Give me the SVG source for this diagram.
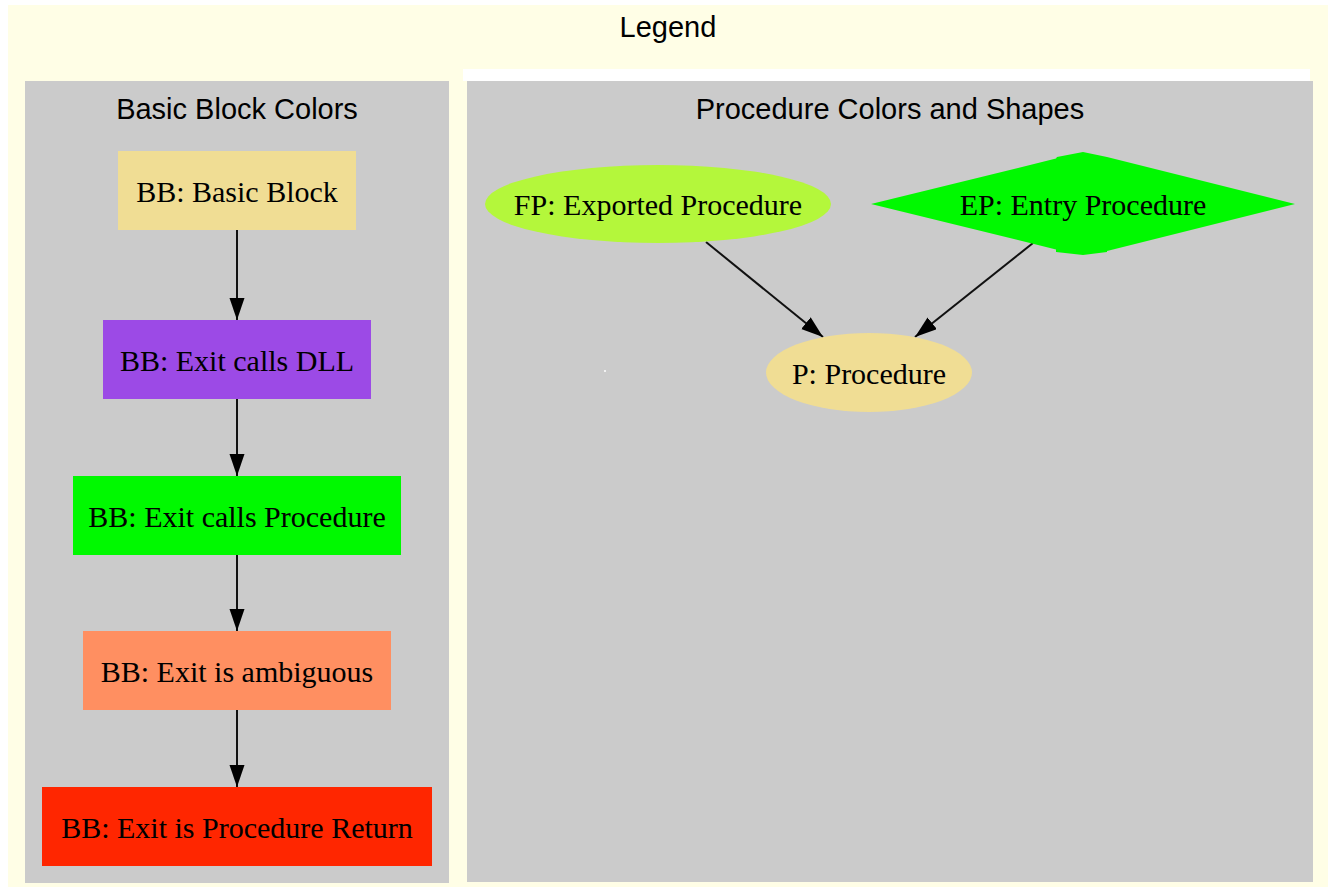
<svg xmlns="http://www.w3.org/2000/svg" width="1334" height="888" viewBox="0 0 1334 888">
  <style>
    .title { font-family: "Liberation Sans", Arial, sans-serif; font-size: 29px; fill: #000; text-anchor: middle; }
    .lbl { font-family: "Liberation Serif", "Times New Roman", serif; font-size: 30px; fill: #000; text-anchor: middle; }
    .cluster { fill: #cbcbcb; }
    .edge { fill: none; stroke: #111; stroke-width: 2; }
  </style>
  <defs>
    <marker id="arrow" markerUnits="userSpaceOnUse" markerWidth="23" markerHeight="16" refX="22" refY="7.5" orient="auto">
      <path d="M0,0 L22,7.5 L0,15 z" fill="#000"/>
    </marker>
  </defs>
  <rect width="1334" height="888" fill="#ffffff"/>
  <g id="legend">
    <rect x="8" y="5" width="1320" height="882" fill="#fffee6"/>
    <text class="title" x="668" y="37">Legend</text>
  </g>
  <g id="cluster-bb">
    <rect class="cluster" x="25" y="81" width="424" height="802"/>
    <text class="title" x="237" y="119">Basic Block Colors</text>
  </g>
  <g id="cluster-proc">
    <rect x="463" y="69" width="847" height="12" fill="#ffffff"/>
    <rect class="cluster" x="467" y="81" width="846" height="801"/>
    <text class="title" x="890" y="119">Procedure Colors and Shapes</text>
    <circle cx="605" cy="371" r="1" fill="#ffffff"/>
  </g>
  <g id="connectors">
    <path class="edge" d="M237,230 L237,320" marker-end="url(#arrow)"/>
    <path class="edge" d="M237,399 L237,476" marker-end="url(#arrow)"/>
    <path class="edge" d="M237,555 L237,631" marker-end="url(#arrow)"/>
    <path class="edge" d="M237,710 L237,787" marker-end="url(#arrow)"/>
    <path class="edge" d="M706,242 L823,337" marker-end="url(#arrow)"/>
    <path class="edge" d="M1033,243 L915,337" marker-end="url(#arrow)"/>
  </g>
  <g id="bb-basic">
    <rect x="118" y="151" width="238" height="79" fill="#f0dd94"/>
    <text class="lbl" x="237" y="202">BB: Basic Block</text>
  </g>
  <g id="bb-dll">
    <rect x="103" y="320" width="268" height="79" fill="#9c4ae6"/>
    <text class="lbl" x="237" y="371">BB: Exit calls DLL</text>
  </g>
  <g id="bb-proc">
    <rect x="73" y="476" width="328" height="79" fill="#00f900"/>
    <text class="lbl" x="237" y="527">BB: Exit calls Procedure</text>
  </g>
  <g id="bb-ambig">
    <rect x="83" y="631" width="308" height="79" fill="#ff8f61"/>
    <text class="lbl" x="237" y="682">BB: Exit is ambiguous</text>
  </g>
  <g id="bb-return">
    <rect x="42" y="787" width="390" height="79" fill="#ff2600"/>
    <text class="lbl" x="237" y="838">BB: Exit is Procedure Return</text>
  </g>
  <g id="fp">
    <ellipse cx="658" cy="204" rx="173" ry="39" fill="#b4f73b"/>
    <text class="lbl" x="658" y="215">FP: Exported Procedure</text>
  </g>
  <g id="ep">
    <polygon points="871,204 1056,158.6 1057,157 1083,152 1107,157 1295,204 1107,251 1107,252 1083,255 1056,252 1056,249.4" fill="#00f900"/>
    <text class="lbl" x="1083" y="215">EP: Entry Procedure</text>
  </g>
  <g id="p">
    <ellipse cx="869" cy="372.5" rx="103" ry="39.5" fill="#f0dd94"/>
    <text class="lbl" x="869" y="384">P: Procedure</text>
  </g>
</svg>
